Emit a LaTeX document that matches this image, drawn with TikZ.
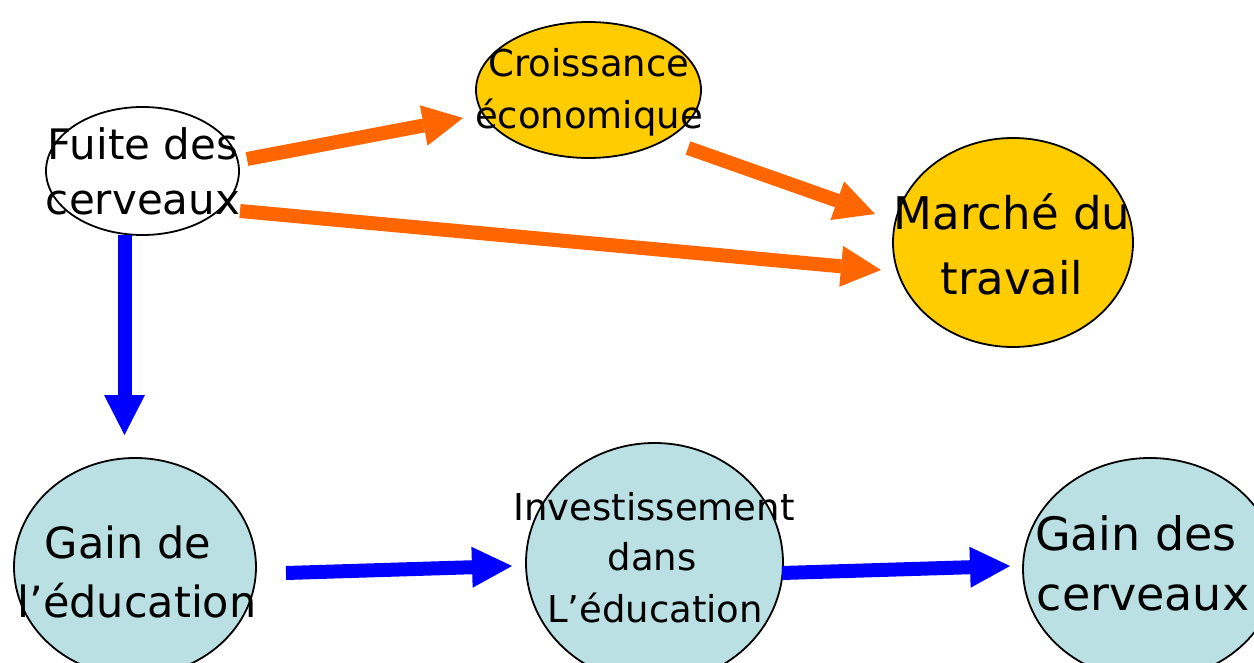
\documentclass[tikz,border=0pt]{standalone}
\usepackage{fontspec}
\setmainfont{DejaVu Sans}
\usetikzlibrary{arrows.meta,shapes.geometric}
\definecolor{arrOrange}{HTML}{FF6600}
\definecolor{arrBlue}{HTML}{0000FF}
\definecolor{fillYellow}{HTML}{FFCC00}
\definecolor{fillCyan}{RGB}{187,224,227}
\begin{document}
\begin{tikzpicture}[x=1pt,y=-1pt,
  bubble/.style={ellipse, draw=black, line width=1.8pt, inner sep=0pt},
  lbl/.style={anchor=base, inner sep=0pt, text=black},
  bigarrow/.style={line width=14pt, -{Triangle[length=40pt,width=41pt,line width=0pt]}},
  orangearrow/.style={bigarrow, draw=arrOrange, fill=arrOrange},
  bluearrow/.style={bigarrow, draw=arrBlue, fill=arrBlue}]
\useasboundingbox (0,0) rectangle (1254,663);
\clip (0,0) rectangle (1254,663);
\fill[white] (0,0) rectangle (1254,663);

% ellipses
\node[bubble, fill=white, minimum width=193pt, minimum height=128pt] (fuite) at (142.5,171) {};
\node[bubble, fill=fillYellow, minimum width=225pt, minimum height=136pt] (croiss) at (588.5,90) {};
\node[bubble, fill=fillYellow, minimum width=240pt, minimum height=209pt] (marche) at (1013,242.5) {};
\node[bubble, fill=fillCyan, minimum width=242pt, minimum height=218pt] (gainedu) at (135,567) {};
\node[bubble, fill=fillCyan, minimum width=257pt, minimum height=240pt] (invest) at (654.5,563) {};
\node[bubble, fill=fillCyan, minimum width=254pt, minimum height=222pt] (gaincerv) at (1150,569) {};

% arrow end points
\coordinate (o1s) at (247,159);  \coordinate (o1e) at (463,118);
\coordinate (o2s) at (688,148);  \coordinate (o2e) at (875,214);
\coordinate (o3s) at (240,211);  \coordinate (o3e) at (881,270);
\coordinate (b1s) at (124.5,235); \coordinate (b1e) at (124.5,435);
\coordinate (b2s) at (286,573);  \coordinate (b2e) at (512,566);
\coordinate (b3s) at (782,573);  \coordinate (b3e) at (1010,566);

\draw[orangearrow] (o1s) -- (o1e);
\draw[orangearrow] (o2s) -- (o2e);
\draw[orangearrow] (o3s) -- (o3e);
\draw[bluearrow] (b1s) -- (b1e);
\draw[bluearrow] (b2s) -- (b2e);
\draw[bluearrow] (b3s) -- (b3e);

% texts
\node[lbl, font=\fontsize{42}{50}\selectfont] (f1) at (143,160) {Fuite des};
\node[lbl, font=\fontsize{42}{50}\selectfont] (f2) at (143,215) {cerveaux};
\node[lbl, font=\fontsize{37}{45}\selectfont] (c1) at (589,77) {Croissance};
\node[lbl, font=\fontsize{37}{45}\selectfont] (c2) at (589,129) {économique};
\node[lbl, font=\fontsize{45}{54}\selectfont] (m1) at (1012,230) {Marché du};
\node[lbl, font=\fontsize{45}{54}\selectfont] (m2) at (1012,295) {travail};
\node[lbl, font=\fontsize{43}{52}\selectfont] (g1) at (128,558) {Gain de};
\node[lbl, font=\fontsize{43}{52}\selectfont] (g2) at (137,617) {l’éducation};
\node[lbl, font=\fontsize{37}{45}\selectfont] (i1) at (654,520) {Investissement};
\node[lbl, font=\fontsize{37}{45}\selectfont] (i2) at (652,570) {dans};
\node[lbl, font=\fontsize{37}{45}\selectfont] (i3) at (655,622) {L’éducation};
\node[lbl, font=\fontsize{46}{55}\selectfont] (h1) at (1136,550) {Gain des};
\node[lbl, font=\fontsize{46}{55}\selectfont] (h2) at (1143,610) {cerveaux};
\end{tikzpicture}
\end{document}
